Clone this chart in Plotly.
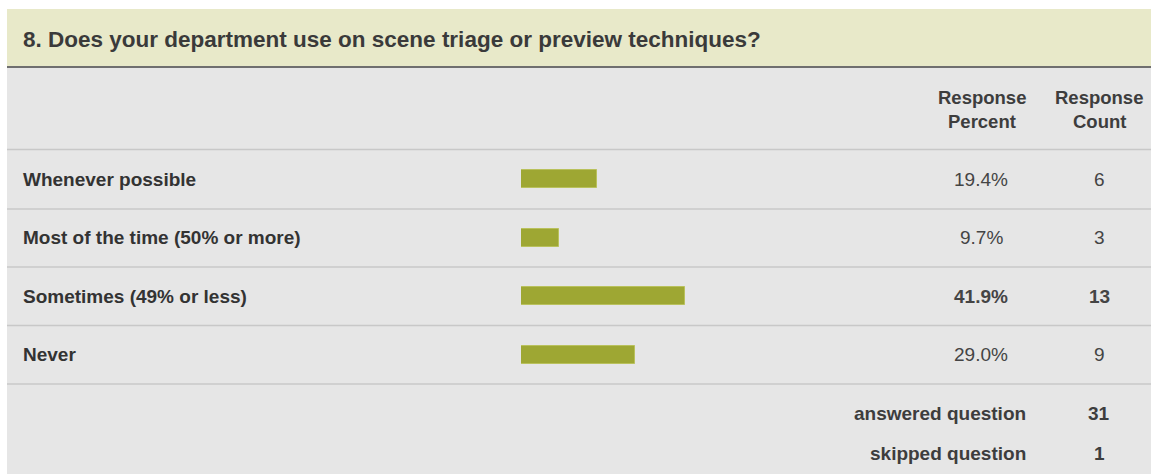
import plotly.graph_objects as go

W, H = 1151, 474

title = "8. Does your department use on scene triage or preview techniques?"
categories = ["Whenever possible", "Most of the time (50% or more)",
              "Sometimes (49% or less)", "Never"]
percents = [19.4, 9.7, 41.9, 29.0]
counts = [6, 3, 13, 9]
header_percent = ["Response", "Percent"]
header_count = ["Response", "Count"]
footer_labels = ["answered question", "skipped question"]
footer_values = [31, 1]

FONT = "Liberation Sans, Arial, sans-serif"
TXT = "#333333"


def px(p):
    return p / W


def py(p):
    return 1 - p / H


fig = go.Figure()

fig.add_trace(go.Bar(
    x=percents, y=categories, orientation="h",
    width=0.3,
    marker=dict(color="#9ea733", line=dict(color="#b9c15c", width=1)),
    hoverinfo="skip", showlegend=False,
))

shapes = []
# header band
shapes.append(dict(type="rect", xref="paper", yref="paper",
                   x0=px(7), x1=1, y0=py(66), y1=py(9),
                   fillcolor="#e8e9c9", line=dict(width=0), layer="below"))
# grey panel
shapes.append(dict(type="rect", xref="paper", yref="paper",
                   x0=px(7), x1=1, y0=0, y1=py(67),
                   fillcolor="#e6e6e6", line=dict(width=0), layer="below"))
# header bottom rule
shapes.append(dict(type="line", xref="paper", yref="paper",
                   x0=px(7), x1=1, y0=py(67), y1=py(67),
                   line=dict(color="#6f6f6f", width=2), layer="below"))
# row separators
for yy in [149.5, 209, 267, 325.5, 384]:
    shapes.append(dict(type="line", xref="paper", yref="paper",
                       x0=px(7), x1=1, y0=py(yy), y1=py(yy),
                       line=dict(color="#c8c8c8", width=1.5), layer="below"))

ann = []
ann.append(dict(text="<b>" + title + "</b>", xref="paper", yref="paper",
                x=px(21), y=py(39), xanchor="left", yanchor="middle",
                showarrow=False, font=dict(family=FONT, size=22.5, color="#3a3a3a")))
for i, t in enumerate(header_percent):
    ann.append(dict(text="<b>" + t + "</b>", xref="paper", yref="paper",
                    x=px(982), y=py(97 + 25 * i), xanchor="center", yanchor="middle",
                    showarrow=False, font=dict(family=FONT, size=18.5, color="#3d3d3d")))
for i, t in enumerate(header_count):
    ann.append(dict(text="<b>" + t + "</b>", xref="paper", yref="paper",
                    x=px(1099), y=py(97 + 25 * i), xanchor="center", yanchor="middle",
                    showarrow=False, font=dict(family=FONT, size=18.5, color="#3d3d3d")))

pmax = max(percents)
for c, p, n in zip(categories, percents, counts):
    ann.append(dict(text="<b>" + c + "</b>", xref="paper", yref="y",
                    x=px(21), y=c, xanchor="left", yanchor="middle",
                    showarrow=False, font=dict(family=FONT, size=19, color=TXT)))
    ptxt = f"{p:.1f}%"
    ntxt = str(n)
    if p == pmax:
        ptxt = "<b>" + ptxt + "</b>"
        ntxt = "<b>" + ntxt + "</b>"
    ann.append(dict(text=ptxt, xref="paper", yref="y",
                    x=px(981), y=c, xanchor="center", yanchor="middle",
                    showarrow=False, font=dict(family=FONT, size=19, color="#444444")))
    ann.append(dict(text=ntxt, xref="paper", yref="y",
                    x=px(1099), y=c, xanchor="center", yanchor="middle",
                    showarrow=False, font=dict(family=FONT, size=19, color="#444444")))

for i, (lab, v) in enumerate(zip(footer_labels, footer_values)):
    yy = py(413 + 40 * i)
    ann.append(dict(text="<b>" + lab + "</b>", xref="paper", yref="paper",
                    x=px(1028), y=yy, xanchor="right", yanchor="middle",
                    showarrow=False, font=dict(family=FONT, size=19, color="#3d3d3d")))
    ann.append(dict(text="<b>" + str(v) + "</b>", xref="paper", yref="paper",
                    x=px(1099), y=yy, xanchor="center", yanchor="middle",
                    showarrow=False, font=dict(family=FONT, size=19, color="#3d3d3d")))

fig.update_layout(
    width=W, height=H,
    margin=dict(l=0, r=0, t=0, b=0),
    paper_bgcolor="white", plot_bgcolor="rgba(0,0,0,0)",
    shapes=shapes, annotations=ann,
    xaxis=dict(domain=[px(521), px(913)], range=[0, 100], visible=False,
               fixedrange=True),
    yaxis=dict(domain=[py(384), py(150)], range=[3.5, -0.5], type="category",
               categoryorder="array", categoryarray=categories, visible=False,
               fixedrange=True),
    bargap=0,
)

fig.write_html("out.html")
